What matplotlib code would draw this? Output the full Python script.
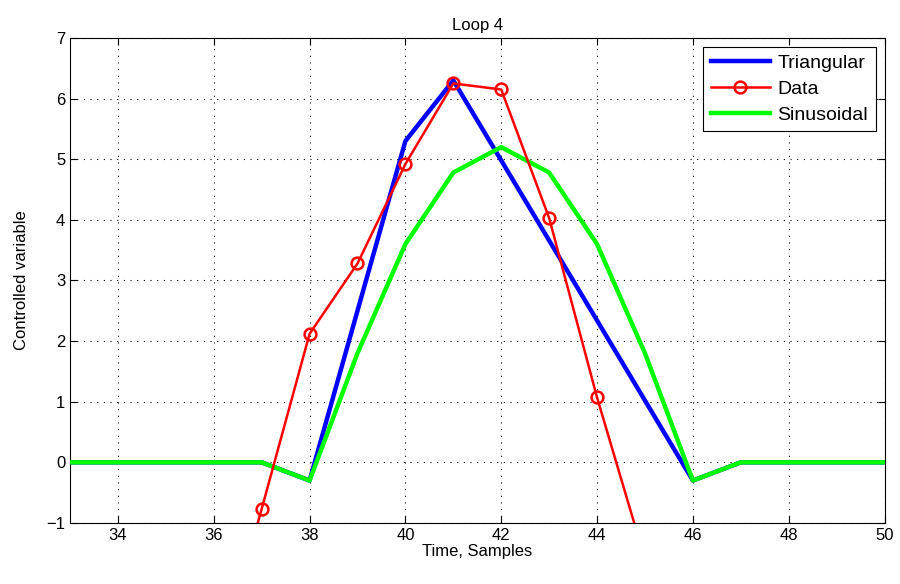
import matplotlib
matplotlib.use("Agg")
import matplotlib.pyplot as plt

plt.rcParams['font.family'] = ['Liberation Sans', 'DejaVu Sans']

t = list(range(33, 51))
triangular = [0, 0, 0, 0, 0, -0.3, 2.5, 5.3, 6.3, 4.98, 3.66, 2.34, 1.02, -0.3, 0, 0, 0, 0]
sinusoidal = [0, 0, 0, 0, 0, -0.3, 1.8, 3.6, 4.78, 5.2, 4.78, 3.6, 1.8, -0.3, 0, 0, 0, 0]
t_data = list(range(36, 46))
data = [-3.6, -0.77, 2.12, 3.28, 4.92, 6.25, 6.15, 4.03, 1.07, -1.6]

fig = plt.figure(figsize=(9, 5.84), dpi=100)
ax = fig.add_axes([0.0778, 0.1045, 0.905, 0.8305])

h1, = ax.plot(t, triangular, color='#0000ff', lw=3.2, zorder=2, label='Triangular')
h3, = ax.plot(t, sinusoidal, color='#00ff00', lw=3.2, zorder=3, label='Sinusoidal')
h2, = ax.plot(t_data, data, color='#ff0000', lw=1.8, marker='o', ms=8.5, mfc='none',
              mec='#ff0000', mew=1.8, zorder=4, label='Data')

ax.set_xlim(33, 50)
ax.set_ylim(-1, 7)
ax.set_xticks(range(34, 51, 2))
ax.set_yticks(range(-1, 8))
ax.set_yticklabels(['\u22121'] + [str(v) for v in range(0, 8)])
ax.grid(True, color='black', linestyle=(0, (1, 5)), linewidth=0.8)
ax.tick_params(direction='in', length=5, labelsize=12, top=True, right=True, width=0.8)
for s in ax.spines.values():
    s.set_linewidth(0.8)

ax.set_title('Loop 4', fontsize=12, pad=6)
ax.set_xlabel('Time, Samples', fontsize=12, labelpad=1)
ax.set_ylabel('Controlled variable', fontsize=12, labelpad=12)

leg = ax.legend(handles=[h1, h2, h3], loc='upper right', fontsize=14, fancybox=False,
                edgecolor='black', framealpha=1, borderaxespad=0.45, handlelength=3.0,
                handletextpad=0.4, labelspacing=0.42, borderpad=0.4)
leg.get_frame().set_linewidth(0.8)

fig.savefig('out.png', dpi=100)
